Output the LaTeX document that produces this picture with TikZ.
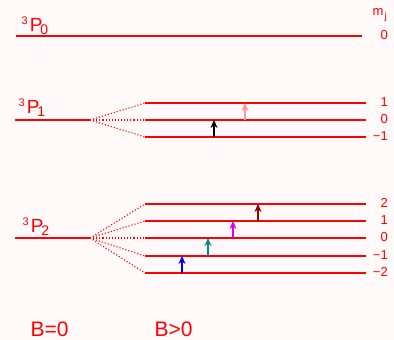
\documentclass[tikz,border=0pt]{standalone}
\usepackage{fontspec}
\setmainfont{Liberation Sans}
\usetikzlibrary{arrows.meta}
\definecolor{bgpink}{RGB}{255,249,249}
\definecolor{lightpinkarrow}{RGB}{255,150,150}
\definecolor{tealarrow}{RGB}{0,140,140}
\definecolor{magentaarrow}{RGB}{225,0,225}
\definecolor{darkredarrow}{RGB}{150,0,0}
\newcommand\myterm[1]{{\fontsize{11}{11}\selectfont\raisebox{7pt}{3}}\kern2pt{\fontsize{19}{19}\selectfont P}\kern-2pt{\fontsize{14}{14}\selectfont\raisebox{-3pt}{#1}}}
\begin{document}
\begin{tikzpicture}[x=1pt,y=-1pt,
  lvl/.style={draw=red,line width=1.2pt},
  split/.style={draw=red,dotted,line width=1.1pt},
  trans/.style={-{Stealth[length=8pt,width=7pt]},line width=1.1pt},
  termlabel/.style={anchor=base west,inner sep=0pt,text=red},
  mjlabel/.style={anchor=base east,inner sep=0pt,text=red,font=\fontsize{13}{13}\selectfont},
  blabel/.style={anchor=base west,inner sep=0pt,text=red,font=\fontsize{21}{21}\selectfont}]
\fill[bgpink] (0,0) rectangle (394,340);
\useasboundingbox (0,0) rectangle (394,340);

% 3P0
\coordinate (p0l) at (16,36);
\coordinate (p0r) at (362,36);
\draw[lvl] (p0l) -- (p0r);
\node[termlabel] (t0) at (21.5,31) {\myterm{0}};
\node[anchor=base west,inner sep=0pt,text=red,font=\fontsize{13}{13}\selectfont] (mj) at (372.5,16) {m\kern1pt\raisebox{-4pt}{\fontsize{10}{10}\selectfont j}};
\node[mjlabel] (p0m) at (388,39) {0};

% 3P1
\coordinate (p1l) at (15,120);
\coordinate (p1s) at (90,120);
\draw[lvl] (p1l) -- (p1s);
\node[termlabel] (t1) at (18.5,113) {\myterm{1}};
\foreach \i/\y/\m in {1/103/1, 2/120/0, 3/137/−1}{
  \coordinate (p1a\i) at (145,\y);
  \coordinate (p1b\i) at (366,\y);
  \draw[lvl] (p1a\i) -- (p1b\i);
  \draw[split] (p1s) -- (p1a\i);
  \node[mjlabel] (p1m\i) at (388,\y+3.5) {\m};
}
\coordinate (a1s) at (245,120); \coordinate (a1e) at (245,103);
\coordinate (a2s) at (214,137); \coordinate (a2e) at (214,120);
\draw[trans,lightpinkarrow] (a1s) -- (a1e);
\draw[trans,black] (a2s) -- (a2e);

% 3P2
\coordinate (p2l) at (15,238);
\coordinate (p2s) at (90,238);
\draw[lvl] (p2l) -- (p2s);
\node[termlabel] (t2) at (22.5,232) {\myterm{2}};
\foreach \i/\y/\m in {1/204/2, 2/221/1, 3/238/0, 4/256/−1, 5/273/−2}{
  \coordinate (p2a\i) at (145,\y);
  \coordinate (p2b\i) at (366,\y);
  \draw[lvl] (p2a\i) -- (p2b\i);
  \draw[split] (p2s) -- (p2a\i);
  \node[mjlabel] (p2m\i) at (388,\y+3.5) {\m};
}
\coordinate (b1s) at (182,273); \coordinate (b1e) at (182,256);
\coordinate (b2s) at (208,256); \coordinate (b2e) at (208,238);
\coordinate (b3s) at (233,238); \coordinate (b3e) at (233,221);
\coordinate (b4s) at (258,221); \coordinate (b4e) at (258,204);
\draw[trans,blue] (b1s) -- (b1e);
\draw[trans,tealarrow] (b2s) -- (b2e);
\draw[trans,magentaarrow] (b3s) -- (b3e);
\draw[trans,darkredarrow] (b4s) -- (b4e);

% field labels
\node[blabel] (bzero) at (30.5,336.5) {B=0};
\node[blabel] (bpos) at (154.5,336.5) {B>0};
\end{tikzpicture}
\end{document}
